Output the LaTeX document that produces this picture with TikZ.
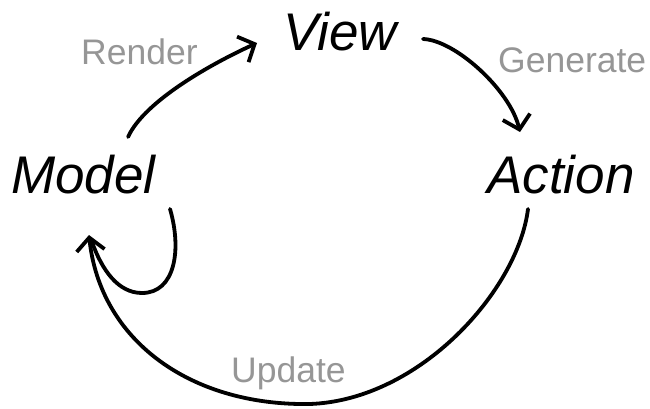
\documentclass[tikz,border=0pt]{standalone}
\usepackage{fontspec}
\setmainfont{Liberation Sans}
\usetikzlibrary{arrows.meta}
\definecolor{lblgray}{RGB}{150,150,150}
\tikzset{
  big/.style={inner sep=0pt, anchor=base west, font=\fontsize{53}{60}\selectfont\itshape},
  lbl/.style={inner sep=0pt, anchor=base west, text=lblgray, font=\fontsize{35.5}{40}\selectfont},
  flow/.style={line width=3.8pt, line cap=round, line join=round, -{Straight Barb[length=13pt,width=28pt,line width=3.8pt]}},
  plain/.style={line width=3.8pt, line cap=round}
}
\begin{document}
\begin{tikzpicture}[x=1pt,y=-1pt]
\useasboundingbox (0,0) rectangle (650,409);
\node[big] (model) at (11,193) {Model};
\node[big] (view) at (283,51) {View};
\node[big] (action) at (487,193) {Action};
\node[lbl] (render) at (81,65) {Render};
\node[lbl] (generate) at (498,73) {Generate};
\node[lbl] (update) at (231,382) {Update};
\coordinate (rs) at (128,137);
\coordinate (re) at (257,43);
\coordinate (gs) at (423,39);
\coordinate (ge) at (520,132);
\coordinate (us) at (528,209);
\coordinate (ub) at (310,404);
\coordinate (ue) at (89,235);
\coordinate (ls) at (170,209);
\coordinate (lb) at (142,293);
\coordinate (le) at (92,242);
\draw[flow] (rs) .. controls (145,100) and (215,62) .. (re);
\draw[flow] (gs) .. controls (455,40) and (510,90) .. (ge);
\draw[flow] (us) .. controls (518,290) and (420,400) .. (ub) .. controls (190,406) and (100,340) .. (ue);
\draw[plain] (ls) .. controls (182,250) and (175,293) .. (lb) .. controls (118,293) and (102,270) .. (le);
\end{tikzpicture}
\end{document}
